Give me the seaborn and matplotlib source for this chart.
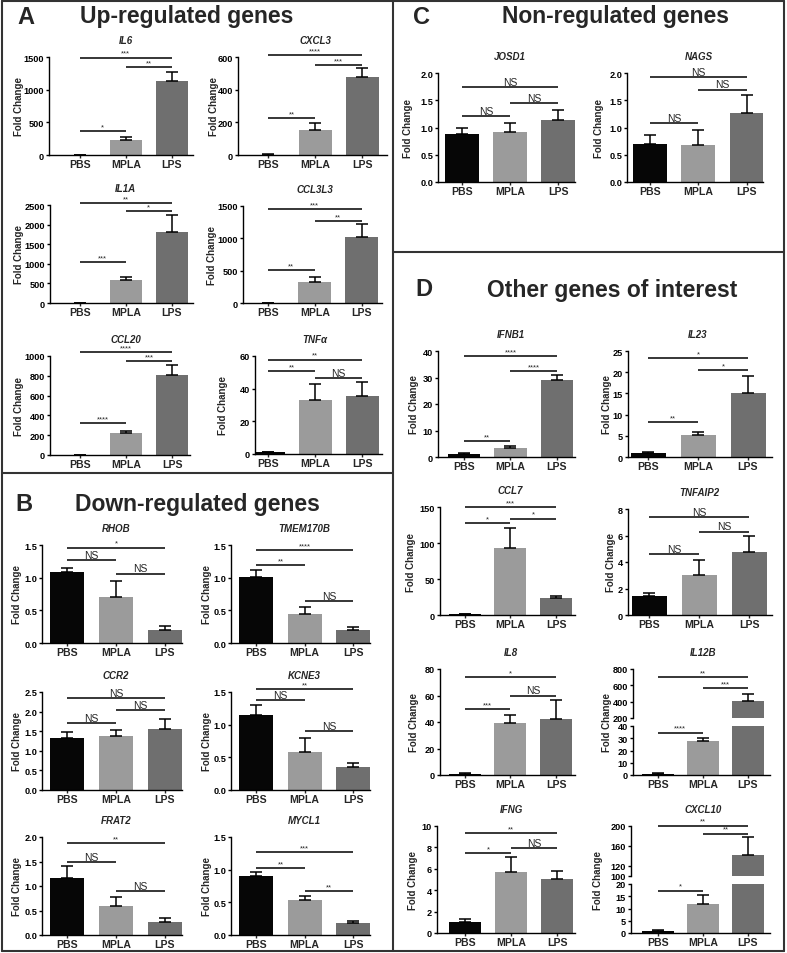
import matplotlib
matplotlib.use("Agg")
import matplotlib.pyplot as plt
from matplotlib.lines import Line2D
import seaborn as sns

sns.set_style("ticks")
plt.rcParams["font.family"] = ["Liberation Sans", "DejaVu Sans"]

groups = ["PBS", "MPLA", "LPS"]
bar_colors = ["#060606", "#9b9b9b", "#6f6f6f"]

# A - up-regulated genes
genes_up = ["IL6", "CXCL3", "IL1A", "CCL3L3", "CCL20", "TNFα"]
mean_up = [[1, 230, 1130], [3, 155, 478], [1, 590, 1810],
           [1, 325, 1020], [1, 222, 810], [1, 33, 35.7]]
err_up = [[0.3, 45, 145], [0.5, 40, 57], [0.3, 75, 435],
          [0.3, 77, 200], [0.3, 18, 100], [0.2, 9.8, 8.5]]
ticks_up = [[0, 500, 1000, 1500], [0, 200, 400, 600], [0, 500, 1000, 1500, 2000, 2500],
            [0, 500, 1000, 1500], [0, 200, 400, 600, 800, 1000], [0, 20, 40, 60]]
sig_up = [[(0, 2, 1490, "***"), (1, 2, 1340, "**"), (0, 1, 371, "*")],
          [(0, 2, 612, "****"), (1, 2, 551, "***"), (0, 1, 224, "**")],
          [(0, 2, 2551, "**"), (1, 2, 2347, "*"), (0, 1, 1046, "***")],
          [(0, 2, 1454, "***"), (1, 2, 1268, "**"), (0, 1, 510, "**")],
          [(0, 2, 1040, "****"), (1, 2, 950, "***"), (0, 1, 323, "****")],
          [(0, 2, 57.8, "**"), (0, 1, 50.6, "**"), (1, 2, 46.5, "NS")]]

# B - down-regulated genes
genes_down = ["RHOB", "TMEM170B", "CCR2", "KCNE3", "FRAT2", "MYCL1"]
mean_down = [[1.08, 0.70, 0.205], [1.01, 0.44, 0.205], [1.336, 1.387, 1.557],
             [1.154, 0.574, 0.349], [1.17, 0.60, 0.27], [0.905, 0.539, 0.178]]
err_down = [[0.065, 0.25, 0.055], [0.11, 0.115, 0.045], [0.155, 0.155, 0.25],
            [0.145, 0.22, 0.06], [0.23, 0.17, 0.07], [0.06, 0.06, 0.036]]
ticks_down = [[0, 0.5, 1.0, 1.5], [0, 0.5, 1.0, 1.5], [0, 0.5, 1.0, 1.5, 2.0, 2.5],
              [0, 0.5, 1.0, 1.5], [0, 0.5, 1.0, 1.5, 2.0], [0, 0.5, 1.0, 1.5]]
sig_down = [[(0, 2, 1.46, "*"), (0, 1, 1.266, "NS"), (1, 2, 1.063, "NS")],
            [(0, 2, 1.42, "****"), (0, 1, 1.19, "**"), (1, 2, 0.636, "NS")],
            [(0, 2, 2.35, "NS"), (1, 2, 2.03, "NS"), (0, 1, 1.70, "NS")],
            [(0, 2, 1.54, "**"), (0, 1, 1.37, "NS"), (1, 2, 0.90, "NS")],
            [(0, 2, 1.87, "**"), (0, 1, 1.48, "NS"), (1, 2, 0.89, "NS")],
            [(0, 2, 1.27, "***"), (0, 1, 1.027, "**"), (1, 2, 0.671, "**")]]

# C - non-regulated genes
genes_non = ["JOSD1", "NAGS"]
mean_non = [[0.872, 0.915, 1.146], [0.70, 0.67, 1.274]]
err_non = [[0.122, 0.165, 0.175], [0.166, 0.29, 0.33]]
ticks_non = [[0, 0.5, 1.0, 1.5, 2.0], [0, 0.5, 1.0, 1.5, 2.0]]
sig_non = [[(0, 2, 1.74, "NS"), (1, 2, 1.45, "NS"), (0, 1, 1.21, "NS")],
           [(0, 2, 1.92, "NS"), (1, 2, 1.695, "NS"), (0, 1, 1.08, "NS")]]

# D - other genes of interest
genes_other = ["IFNB1", "IL23", "CCL7", "TNFAIP2", "IL8", "IL12B", "IFNG", "CXCL10"]
mean_other = [[1.0, 3.4, 29.0], [1.0, 5.3, 15.2], [1.0, 92.5, 23.1], [1.44, 3.02, 4.76],
              [1.0, 39.5, 42.0], [1.0, 27.5, 410], [1.02, 5.73, 5.05], [1.0, 12.0, 143]]
err_other = [[0.4, 0.6, 2.1], [0.25, 0.56, 3.9], [0.5, 28.5, 3.3], [0.2, 1.11, 1.23],
             [0.5, 5.5, 14.5], [0.3, 2.7, 80], [0.28, 1.39, 0.77], [0.3, 3.7, 35]]
ticks_other = [[0, 10, 20, 30, 40], [0, 5, 10, 15, 20, 25], [0, 50, 100, 150], [0, 2, 4, 6, 8],
               [0, 20, 40, 60, 80], [0, 10, 20, 30, 40], [0, 2, 4, 6, 8, 10], [0, 5, 10, 15, 20]]
upper_ticks = {"IL12B": [200, 400, 600, 800], "CXCL10": [100, 120, 160, 200]}
sig_other = [[(0, 2, 38.1, "****"), (1, 2, 32.4, "****"), (0, 1, 5.9, "**")],
             [(0, 2, 23.3, "*"), (1, 2, 20.5, "*"), (0, 1, 8.2, "**")],
             [(0, 2, 149.5, "***"), (1, 2, 134, "*"), (0, 1, 128, "*")],
             [(0, 2, 7.36, "NS"), (1, 2, 6.3, "NS"), (0, 1, 4.58, "NS")],
             [(0, 2, 73.75, "*"), (1, 2, 60, "NS"), (0, 1, 50, "***")],
             [(0, 2, 700, "**"), (1, 2, 565, "***"), (0, 1, 34.6, "****")],
             [(0, 2, 9.35, "**"), (1, 2, 7.9, "NS"), (0, 1, 7.43, "*")],
             [(0, 2, 201, "**"), (1, 2, 185, "**"), (0, 1, 17.3, "*")]]

# axes boxes in pixels: left, top, right, bottom, xlim lo, xlim hi, ylabel x
layout = {
    "IL6": (49, 58, 193, 156, -0.67, 2.46, 19),
    "CXCL3": (238, 58, 387, 156, -0.64, 2.53, 214),
    "IL1A": (50, 206, 193, 304, -0.65, 2.46, 19),
    "CCL3L3": (243, 207, 382, 304, -0.53, 2.43, 212),
    "CCL20": (50, 357, 190, 456, -0.65, 2.39, 19),
    "TNFα": (255, 357, 382, 455, -0.28, 2.42, 223),
    "RHOB": (42, 546, 182, 644, -0.51, 2.35, 17),
    "TMEM170B": (231, 546, 370, 644, -0.52, 2.35, 207),
    "CCR2": (42, 693, 182, 791, -0.51, 2.35, 17),
    "KCNE3": (231, 693, 370, 791, -0.52, 2.35, 207),
    "FRAT2": (42, 838, 182, 936, -0.51, 2.35, 17),
    "MYCL1": (231, 838, 370, 936, -0.52, 2.35, 207),
    "JOSD1": (438, 74, 575, 183, -0.5, 2.35, 408),
    "NAGS": (627, 74, 763, 183, -0.47, 2.33, 599),
    "IFNB1": (438, 352, 575, 458, -0.56, 2.39, 414),
    "IL23": (628, 352, 772, 458, -0.4, 2.48, 607),
    "CCL7": (440, 508, 575, 616, -0.54, 2.41, 411),
    "TNFAIP2": (628, 510, 772, 616, -0.42, 2.46, 611),
    "IL8": (440, 670, 575, 776, -0.54, 2.41, 414),
    "IL12B": (633, 670, 770, 776, -0.55, 2.49, 607),
    "IFNG": (437, 827, 575, 934, -0.61, 2.39, 413),
    "CXCL10": (631, 827, 770, 934, -0.6, 2.49, 598),
}
# broken axes: pixel bottom of the upper part, pixel top of the lower part
breaks = {"IL12B": (719, 727), "CXCL10": (877, 885)}

W, H = 787, 954
fig = plt.figure(figsize=(W / 100, H / 100), dpi=100)


def px_axes(l, t, r, b):
    return fig.add_axes([l / W, 1 - b / H, (r - l) / W, (b - t) / H])


def draw_bars(ax, means, errs, ticks, xlim, decimals, show_x=True):
    sns.barplot(x=groups, y=means, hue=groups, palette=bar_colors, width=0.7,
                saturation=1, legend=False, linewidth=0, ax=ax)
    ax.errorbar([0, 1, 2], means, yerr=[[0, 0, 0], errs], fmt="none",
                ecolor="black", elinewidth=1.1, capsize=4.5, capthick=1.1)
    ax.set_xlim(*xlim)
    ax.set_ylim(ticks[0], ticks[-1])
    ax.set_yticks(ticks)
    fmt = "{:.1f}" if decimals else "{:g}"
    ax.set_yticklabels([fmt.format(t) for t in ticks], fontsize=6.6, fontweight="bold")
    ax.set_xlabel("")
    ax.set_ylabel("")
    for s in ["top", "right"]:
        ax.spines[s].set_visible(False)
    for s in ["left", "bottom"]:
        ax.spines[s].set_linewidth(1.0)
        ax.spines[s].set_color("black")
    ax.tick_params(axis="y", length=2.5, width=1.0, pad=1, colors="black")
    if show_x:
        ax.set_xticks([0, 1, 2])
        ax.set_xticklabels(groups, fontsize=7.6, fontweight="bold")
        ax.tick_params(axis="x", length=2, width=1.0, pad=1)
    else:
        ax.spines["bottom"].set_visible(False)
        ax.set_xticks([])


def bracket(ax, i, j, y, label):
    ax.plot([i, j], [y, y], color="black", lw=1.1, clip_on=False,
            solid_capstyle="butt")
    if label == "NS":
        ax.annotate(label, xy=((i + j) / 2, y), xytext=(0, 0.2),
                    textcoords="offset points", ha="center", va="bottom",
                    fontsize=7.5, annotation_clip=False)
    else:
        ax.annotate(label, xy=((i + j) / 2, y), xytext=(0, 0.6),
                    textcoords="offset points", ha="center", va="bottom",
                    fontsize=5.5, annotation_clip=False)


def draw_gene(name, means, errs, ticks, sigs, decimals):
    l, t, r, b, lo, hi, ylab_x = layout[name]
    if name in breaks:
        mid_b, mid_t = breaks[name]
        ax_top = px_axes(l, t, r, mid_b)
        ax = px_axes(l, mid_t, r, b)
        draw_bars(ax_top, means, errs, upper_ticks[name], (lo, hi), decimals, show_x=False)
        draw_bars(ax, means, errs, ticks, (lo, hi), decimals)
        for i, j, y, lab in sigs:
            bracket(ax_top if y > ticks[-1] else ax, i, j, y, lab)
    else:
        ax = px_axes(l, t, r, b)
        draw_bars(ax, means, errs, ticks, (lo, hi), decimals)
        for i, j, y, lab in sigs:
            bracket(ax, i, j, y, lab)
    cx = l + (1 - lo) / (hi - lo) * (r - l)
    fig.text(cx / W, 1 - (t - 17) / H, name, ha="center", va="center",
             fontsize=7, fontweight="bold", fontstyle="italic")
    fig.text(ylab_x / W, 1 - ((t + b) / 2) / H, "Fold Change", rotation=90,
             ha="center", va="center", fontsize=7, fontweight="bold")


for k, g in enumerate(genes_up):
    draw_gene(g, mean_up[k], err_up[k], ticks_up[k], sig_up[k], False)
for k, g in enumerate(genes_down):
    draw_gene(g, mean_down[k], err_down[k], ticks_down[k], sig_down[k], True)
for k, g in enumerate(genes_non):
    draw_gene(g, mean_non[k], err_non[k], ticks_non[k], sig_non[k], True)
for k, g in enumerate(genes_other):
    draw_gene(g, mean_other[k], err_other[k], ticks_other[k], sig_other[k], False)

# panel headings
headings = [("A", 17, 17, "Up-regulated genes", 187),
            ("B", 15, 505, "Down-regulated genes", 197),
            ("C", 413, 17, "Non-regulated genes", 616),
            ("D", 415, 290, "Other genes of interest", 612)]
for letter, lx, ly, title, tx in headings:
    fig.text(lx / W, 1 - ly / H, letter, ha="left", va="center",
             fontsize=17, fontweight="bold")
    fig.text(tx / W, 1 - ly / H, title, ha="center", va="center",
             fontsize=16.5, fontweight="bold")

# panel frames
frame_kw = dict(color="#333333", lw=1.5, transform=fig.transFigure)
def frame_line(x0, y0, x1, y1):
    fig.add_artist(Line2D([x0 / W, x1 / W], [1 - y0 / H, 1 - y1 / H], **frame_kw))

frame_line(2, 2, 784, 2)
frame_line(2, 952, 784, 952)
frame_line(2, 2, 2, 952)
frame_line(784, 2, 784, 952)
frame_line(393, 2, 393, 952)
frame_line(2, 474, 393, 474)
frame_line(393, 253, 784, 253)

fig.savefig("out.png", dpi=100)
